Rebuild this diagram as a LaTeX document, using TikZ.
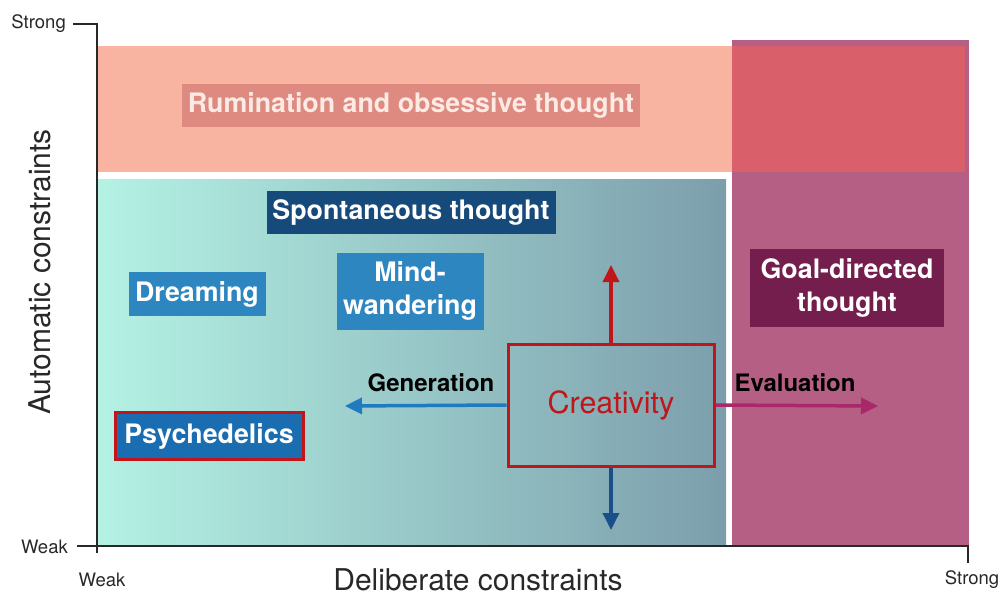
\documentclass[tikz,border=0pt]{standalone}
\usepackage{fontspec}
\setmainfont{TeX Gyre Heros}
\usetikzlibrary{arrows.meta,positioning}
\definecolor{salmon}{RGB}{248,180,160}
\definecolor{salmonlbl}{RGB}{222,138,128}
\definecolor{salmontxt}{RGB}{252,235,228}
\definecolor{goalarea}{RGB}{182,95,132}
\definecolor{overlap}{RGB}{217,95,106}
\definecolor{mint}{RGB}{180,242,228}
\definecolor{steel}{RGB}{124,158,172}
\definecolor{darkblue}{RGB}{22,74,122}
\definecolor{midblue}{RGB}{46,134,192}
\definecolor{psyblue}{RGB}{26,109,176}
\definecolor{plum}{RGB}{116,30,78}
\definecolor{crimson}{RGB}{192,22,26}
\definecolor{genblue}{RGB}{31,122,192}
\definecolor{evalpink}{RGB}{168,40,106}
\definecolor{downblue}{RGB}{26,79,138}
\definecolor{axisgray}{RGB}{40,40,40}

\begin{document}
\begin{tikzpicture}
[x=1pt,y=-1pt,align=center]
\tikzstyle{tag}=[text=white,font=\fontsize{26.8}{33}\selectfont\bfseries,inner sep=0pt]
\tikzstyle{ticktext}=[text=axisgray,font=\fontsize{18.5}{20}\selectfont,inner sep=0pt]
\tikzstyle{title}=[text=axisgray,font=\fontsize{30}{32}\selectfont,inner sep=0pt]
\tikzstyle{axis}=[axisgray,line width=2.5pt]
\tikzstyle{push}=[line width=3.5pt,-{Triangle[length=17pt,width=16pt]}]
\tikzstyle{flowtext}=[font=\fontsize{24}{26}\selectfont\bfseries,inner sep=0pt]

\useasboundingbox (0,0) rectangle (1002,597);

% regions
\fill [salmon] (97,46) rectangle (732,172);
\fill [goalarea] (732,40) rectangle (969,545);
\fill [overlap] (732,46) rectangle (965,172);
\shade [left color=mint,right color=steel] (97,179) rectangle (726,545);

% axes
\draw [axis] (73,24) -- (97,24) -- (97,553);
\draw [axis] (77,546) -- (968,546) -- (968,563);
\node [ticktext,anchor=east] (ystrong) at (66,24) {Strong};
\node [ticktext,anchor=east] (yweak) at (68,547) {Weak};
\node [ticktext] (xweak) at (102,580) {Weak};
\node [ticktext] (xstrong) at (972,580) {Strong};
\node [title] (xtitle) at (478,580) {Deliberate constraints};
\node [title,rotate=90] (ytitle) at (40,272) {Automatic constraints};

% labels
\node [tag,fill=salmonlbl,text=salmontxt,minimum width=458,minimum height=43] (rumin) at (411,105) {Rumination and obsessive thought};
\node [tag,fill=darkblue,minimum width=289,minimum height=43] (spont) at (411,212) {Spontaneous thought};
\node [tag,fill=midblue,minimum width=137,minimum height=44] (dream) at (197,294) {Dreaming};
\node [tag,fill=midblue,minimum width=147,minimum height=77] (mind) at (410,291) {Mind-\\wandering};
\node [tag,fill=plum,minimum width=194,minimum height=78] (goal) at (847,288) {Goal-directed\\thought};
\node [tag,fill=psyblue,draw=crimson,line width=3pt,minimum width=188,minimum height=47] (psych) at (209,436) {Psychedelics};
\node [draw=crimson,line width=3pt,text=crimson,font=\fontsize{30.5}{32}\selectfont,minimum width=206,minimum height=122] (creat) at (611,405) {Creativity};

% arrows
\coordinate (upend) at (611,265);
\coordinate (downend) at (611,530);
\coordinate (genend) at (345,406);
\coordinate (evalend) at (878,406);
\draw [push,crimson] (creat.north) -- (upend);
\draw [push,downblue] (creat.south) -- (downend);
\draw [push,genblue] (creat.west) -- (genend);
\draw [push,evalpink] (creat.east) -- (evalend);
\node [flowtext] (gen) at (431,383) {Generation};
\node [flowtext] (eval) at (795,383) {Evaluation};

\end{tikzpicture}
\end{document}
